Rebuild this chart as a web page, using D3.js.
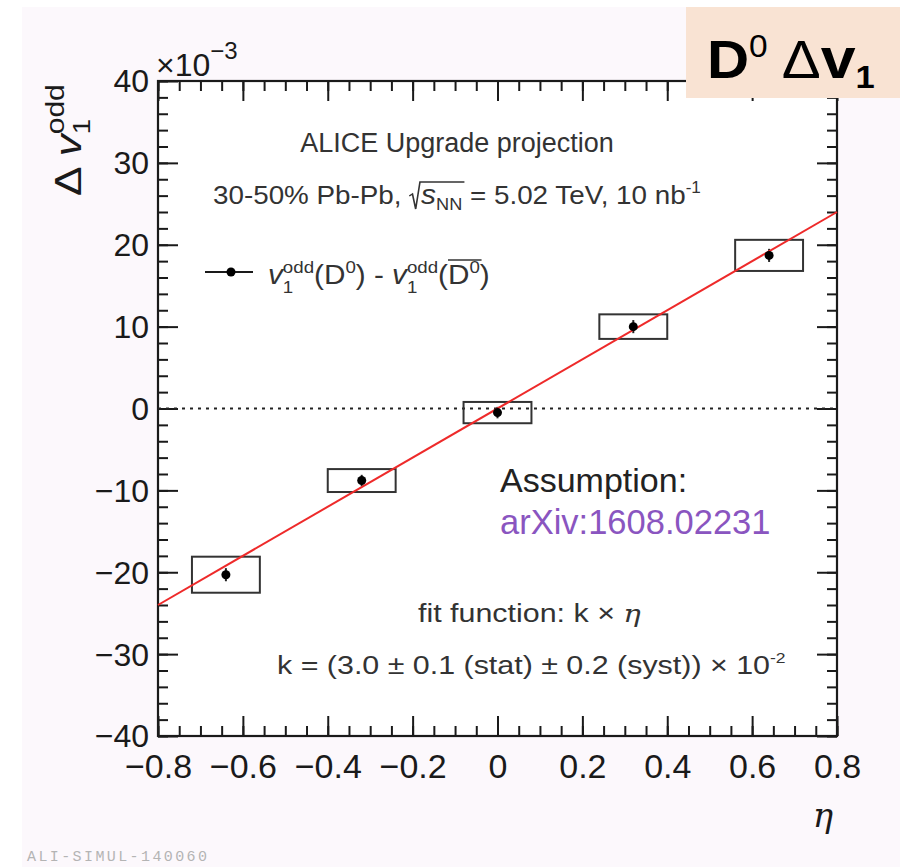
<!DOCTYPE html>
<html>
<head>
<meta charset="utf-8">
<script src="https://cdn.jsdelivr.net/npm/d3@7/dist/d3.min.js"></script>
<style>
  html, body { margin: 0; padding: 0; background: #ffffff; }
  svg { display: block; }
  text { font-family: "Liberation Sans", Arial, Helvetica, sans-serif; white-space: pre; }
</style>
</head>
<body>
<svg id="chart" width="900" height="867"></svg>
<script>
// ---- data (Δv1 in units of 10^-3) ----
const etaCenters = [-0.64, -0.32, 0.0, 0.32, 0.64];
const deltaV1 = [-20.3, -8.8, -0.5, 10.0, 18.7];
const statErr = [0.8, 0.7, 0.7, 0.8, 0.8];
const systErr = [2.2, 1.4, 1.3, 1.5, 1.9];
const systHalfWidth = [0.08, 0.08, 0.08, 0.08, 0.08];
const fitSlope = 30;            // k = 3.0e-2, expressed in 10^-3 units
const fitRange = [-0.8, 0.8];
const xMajorTicks = [-0.8, -0.6, -0.4, -0.2, 0, 0.2, 0.4, 0.6, 0.8];
const yMajorTicks = [-40, -30, -20, -10, 0, 10, 20, 30, 40];

const svg = d3.select("#chart");

// page background
svg.append("rect").attr("x", 22).attr("y", 7).attr("width", 878).attr("height", 860)
  .attr("fill", "#fcf8fc");

const frame = { left: 158, right: 837, top: 81, bottom: 736 };
const x = d3.scaleLinear().domain([-0.8, 0.8]).range([frame.left, frame.right]);
const y = d3.scaleLinear().domain([-40, 40]).range([frame.bottom, frame.top]);

// plot area
svg.append("rect").attr("x", frame.left).attr("y", frame.top)
  .attr("width", frame.right - frame.left).attr("height", frame.bottom - frame.top)
  .attr("fill", "#ffffff");

const ink = "#1a1a1a";
const xMinor = d3.range(-0.8, 0.8001, 0.05).map(v => +v.toFixed(2));
const yMinor = d3.range(-40, 40.001, 2);

function styleAxis(g) {
  g.select(".domain").remove();
  g.selectAll(".tick line").attr("stroke", ink).attr("stroke-width", 2);
  g.selectAll(".tick text").attr("fill", ink);
}

// bottom axis
const gB = svg.append("g").attr("transform", `translate(0,${frame.bottom})`);
gB.append("g").call(d3.axisBottom(x).tickValues(xMinor).tickSize(-10).tickFormat("")).call(styleAxis);
gB.append("g").call(d3.axisBottom(x).tickValues(xMajorTicks).tickSize(-20).tickPadding(13)
  .tickFormat(d => d === 0 ? "0" : d3.format(".1f")(d))).call(styleAxis)
  .selectAll(".tick text").attr("font-size", 34).attr("dy", "0.85em");

// top axis
const gT = svg.append("g").attr("transform", `translate(0,${frame.top})`);
gT.append("g").call(d3.axisTop(x).tickValues(xMinor).tickSize(-10).tickFormat("")).call(styleAxis);
gT.append("g").call(d3.axisTop(x).tickValues(xMajorTicks).tickSize(-20).tickFormat("")).call(styleAxis);

// left axis
const gL = svg.append("g").attr("transform", `translate(${frame.left},0)`);
gL.append("g").call(d3.axisLeft(y).tickValues(yMinor).tickSize(-10).tickFormat("")).call(styleAxis);
gL.append("g").call(d3.axisLeft(y).tickValues(yMajorTicks).tickSize(-20).tickPadding(9)
  .tickFormat(d3.format("d"))).call(styleAxis)
  .selectAll(".tick text").attr("font-size", 32).attr("dy", "0.34em");

// right axis
const gR = svg.append("g").attr("transform", `translate(${frame.right},0)`);
gR.append("g").call(d3.axisRight(y).tickValues(yMinor).tickSize(-10).tickFormat("")).call(styleAxis);
gR.append("g").call(d3.axisRight(y).tickValues(yMajorTicks).tickSize(-20).tickFormat("")).call(styleAxis);

// frame
svg.append("rect").attr("x", frame.left).attr("y", frame.top)
  .attr("width", frame.right - frame.left).attr("height", frame.bottom - frame.top)
  .attr("fill", "none").attr("stroke", ink).attr("stroke-width", 2.2);

// zero reference line
svg.append("line").attr("x1", x(-0.8)).attr("x2", x(0.8)).attr("y1", y(0)).attr("y2", y(0))
  .attr("stroke", "#222").attr("stroke-width", 2).attr("stroke-dasharray", "3,5");

// systematic boxes
const pts = etaCenters.map((e, i) => ({ e, v: deltaV1[i], s: statErr[i], sy: systErr[i], w: systHalfWidth[i] }));
svg.append("g").selectAll("rect").data(pts).join("rect")
  .attr("x", d => x(d.e - d.w)).attr("y", d => y(d.v + d.sy))
  .attr("width", d => x(d.e + d.w) - x(d.e - d.w)).attr("height", d => y(d.v - d.sy) - y(d.v + d.sy))
  .attr("fill", "none").attr("stroke", "#333").attr("stroke-width", 2);

// statistical error bars
svg.append("g").selectAll("line").data(pts).join("line")
  .attr("x1", d => x(d.e)).attr("x2", d => x(d.e))
  .attr("y1", d => y(d.v - d.s)).attr("y2", d => y(d.v + d.s))
  .attr("stroke", "#222").attr("stroke-width", 2);

// fit line k × η
svg.append("line")
  .attr("x1", x(fitRange[0])).attr("y1", y(fitSlope * fitRange[0]))
  .attr("x2", x(fitRange[1])).attr("y2", y(fitSlope * fitRange[1]))
  .attr("stroke", "#ee2a2a").attr("stroke-width", 2);

// markers
svg.append("g").selectAll("circle").data(pts).join("circle")
  .attr("cx", d => x(d.e)).attr("cy", d => y(d.v)).attr("r", 4.5).attr("fill", "#000");

// rich-text helper: pieces laid out left to right inside a (optionally stretched) group
function richText(parent, x0, y0, pieces, base) {
  const g = parent.append("g")
    .attr("transform", `translate(${x0},${y0}) scale(${base.sx || 1},1)`);
  let cx = 0;
  const marks = {};
  pieces.forEach(p => {
    if (p.mark) { marks[p.mark] = cx; return; }
    if (p.gap) { cx += p.gap; return; }
    const t = g.append("text").attr("x", cx).attr("y", p.dy || 0)
      .attr("font-size", p.size || base.size)
      .attr("fill", p.fill || base.fill || ink)
      .attr("font-style", p.italic ? "italic" : null)
      .attr("font-weight", p.bold ? "bold" : null)
      .text(p.t);
    if (p.family) t.style("font-family", p.family);
    const w = t.node().getComputedTextLength();
    if (p.overline) {
      g.append("line").attr("x1", cx + p.overline[0]).attr("x2", cx + w + p.overline[1])
        .attr("y1", p.overline[2]).attr("y2", p.overline[2])
        .attr("stroke", p.fill || base.fill || ink).attr("stroke-width", 1.6);
    }
    if (!p.noAdvance) cx += w;
  });
  return { g, end: cx, marks };
}

const txt = "#333";

// header lines
svg.append("text").attr("x", 457).attr("y", 152).attr("text-anchor", "middle")
  .attr("font-size", 27).attr("fill", txt).text("ALICE Upgrade projection");

// collision system line, with a hand-drawn radical over s_NN
{
  const rt = richText(svg, 213, 204, [
    { t: "30-50% Pb-Pb, " },
    { mark: "sq" },
    { gap: 11 },
    { t: "s", italic: true, size: 28 },
    { t: "NN", size: 17, dy: 6 },
    { mark: "sqEnd" },
    { t: " = 5.02 TeV, 10 nb" },
    { t: "-1", size: 16, dy: -11 }
  ], { size: 26, fill: txt, sx: 1.07 });
  const a = rt.marks.sq, b = rt.marks.sqEnd;
  rt.g.append("path")
    .attr("d", `M${a},-8 L${a + 3},-10 L${a + 6},5 L${a + 10},-22 L${b + 2},-22`)
    .attr("fill", "none").attr("stroke", txt).attr("stroke-width", 1.5);
}

// legend
const legY = 272;
svg.append("line").attr("x1", 205).attr("x2", 253).attr("y1", legY).attr("y2", legY)
  .attr("stroke", ink).attr("stroke-width", 2);
svg.append("circle").attr("cx", 231).attr("cy", legY).attr("r", 4.5).attr("fill", "#000");
richText(svg, 268, 284, [
  { t: "v", italic: true },
  { t: "1", size: 17, dy: 9, noAdvance: true },
  { t: "odd", size: 17, dy: -11 },
  { t: "(D" },
  { t: "0", size: 17, dy: -11 },
  { t: ") - " },
  { t: "v", italic: true },
  { t: "1", size: 17, dy: 9, noAdvance: true },
  { t: "odd", size: 17, dy: -11 },
  { t: "(" },
  { t: "D", overline: [0, 11, -24] },
  { t: "0", size: 17, dy: -11 },
  { t: ")" }
], { size: 27, fill: txt, sx: 1.1 });

// assumption note
svg.append("text").attr("x", 500).attr("y", 492).attr("font-size", 34).attr("fill", "#222").text("Assumption:");
svg.append("text").attr("x", 500).attr("y", 534).attr("font-size", 34.5).attr("fill", "#8a55c0").text("arXiv:1608.02231");

// fit description
richText(svg, 418, 622, [
  { t: "fit function: k × " },
  { t: "η", italic: true, family: "DejaVu Serif", size: 25 }
], { size: 26, fill: txt, sx: 1.17 });
richText(svg, 277, 674, [
  { t: "k = (3.0 ± 0.1 (stat) ± 0.2 (syst)) × 10" },
  { t: "-2", size: 15, dy: -11 }
], { size: 26, fill: txt, sx: 1.17 });

// axis titles
svg.append("text").attr("x", 823).attr("y", 827).attr("font-size", 34)
  .attr("font-style", "italic").style("font-family", "DejaVu Serif").attr("fill", ink)
  .attr("text-anchor", "middle").text("η");

richText(svg, 156, 76, [
  { t: "×10" },
  { t: "−3", size: 24, dy: -17 }
], { size: 32, fill: ink });

{
  const gy = svg.append("g").attr("transform", "translate(81,196) rotate(-90)");
  richText(gy, 0, 0, [
    { t: "Δ " },
    { t: "v", italic: true },
    { t: "1", size: 23, dy: 9, noAdvance: true },
    { t: "odd", size: 25, dy: -17 }
  ], { size: 37, fill: ink, sx: 1.2 });
}

// badge
svg.append("rect").attr("x", 686).attr("y", 7).attr("width", 214).attr("height", 91).attr("fill", "#f9e3d3");
richText(svg, 707, 78, [
  { t: "D", bold: true },
  { t: "0", size: 31, dy: -21 },
  { gap: 13 },
  { t: "Δ" },
  { t: "v", bold: true, size: 58 },
  { t: "1", size: 32, bold: true, dy: 10 }
], { size: 54, fill: "#000", sx: 1.08 });

// figure id
svg.append("text").attr("x", 27).attr("y", 861).attr("font-size", 15)
  .style("font-family", "'Liberation Mono', 'DejaVu Sans Mono', monospace")
  .attr("letter-spacing", 2.4).attr("fill", "#b4b4b4")
  .text("ALI-SIMUL-140060");
</script>
</body>
</html>
